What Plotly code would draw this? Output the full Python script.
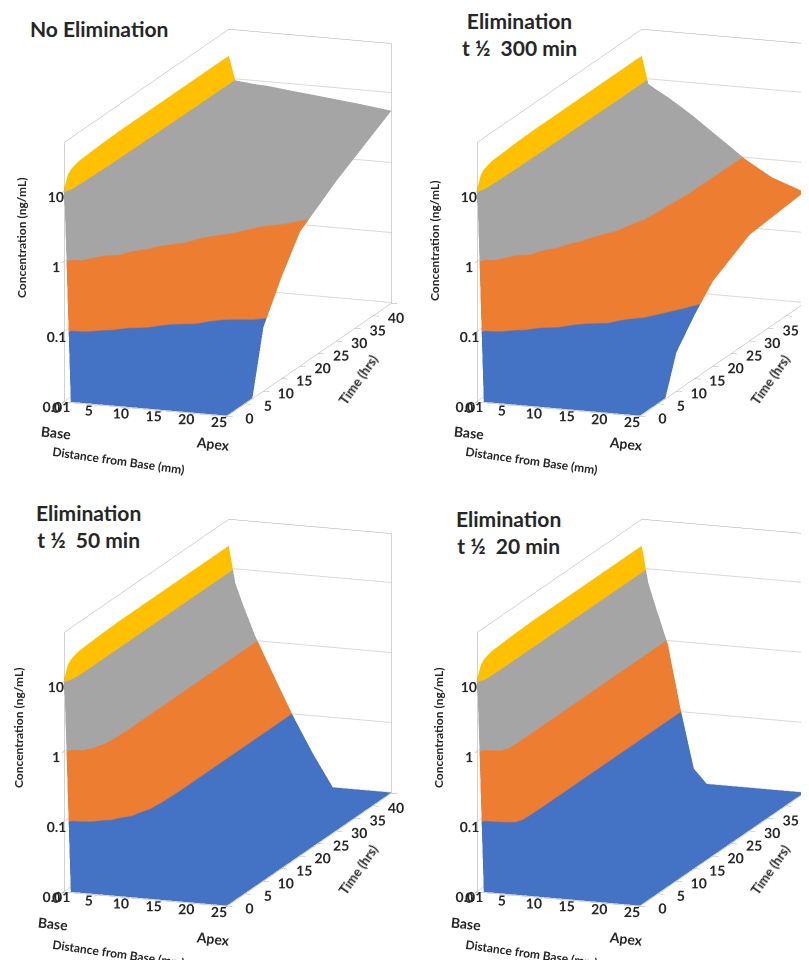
import numpy as np
import plotly.graph_objects as go

# grid
DIST_MM = [0, 1, 2, 4, 6, 8, 10, 13, 16, 20, 25]
TIME_HRS = [0, 1, 2, 4, 7, 10, 15, 20, 30, 45]

# concentration (ng/mL), one row per time point, one column per distance
CONC_NO_ELIM = [
    [11, 0.01, 0.01, 0.01, 0.01, 0.01, 0.01, 0.01, 0.01, 0.01, 0.01],
    [16, 2.8, 1.6, 0.1, 0.011, 0.01, 0.01, 0.01, 0.01, 0.01, 0.01],
    [18, 4.0, 2.8, 0.56, 0.14, 0.025, 0.01, 0.01, 0.01, 0.01, 0.01],
    [19.5, 5.2, 4.2, 2.0, 1.26, 0.32, 0.14, 0.032, 0.01, 0.01, 0.01],
    [20, 6.3, 5.4, 3.3, 2.4, 1.5, 0.7, 0.25, 0.14, 0.025, 0.01],
    [20.5, 7.1, 6.2, 4.3, 3.3, 2.4, 1.6, 0.9, 0.35, 0.16, 0.08],
    [21, 7.8, 7.1, 5.5, 4.5, 3.6, 2.8, 1.9, 1.26, 0.63, 0.28],
    [21, 8.3, 7.8, 6.3, 5.4, 4.6, 3.8, 2.8, 2.1, 1.26, 0.81],
    [21, 8.9, 8.5, 7.6, 6.9, 6.2, 5.5, 4.5, 3.6, 2.8, 1.9],
    [21, 9.5, 9.3, 8.9, 8.7, 8.3, 7.9, 7.4, 6.9, 6.3, 5.5],
]
CONC_300 = [
    [11, 0.01, 0.01, 0.01, 0.01, 0.01, 0.01, 0.01, 0.01, 0.01, 0.01],
    [16, 2.6, 1.5, 0.09, 0.011, 0.01, 0.01, 0.01, 0.01, 0.01, 0.01],
    [18, 3.7, 2.5, 0.5, 0.126, 0.022, 0.01, 0.01, 0.01, 0.01, 0.01],
    [19.5, 4.8, 3.6, 1.66, 1.0, 0.26, 0.12, 0.028, 0.01, 0.01, 0.01],
    [20, 5.6, 4.6, 2.6, 1.8, 1.05, 0.5, 0.2, 0.11, 0.022, 0.01],
    [20.5, 6.3, 5.2, 3.3, 2.3, 1.6, 1.0, 0.56, 0.25, 0.1, 0.035],
    [21, 6.9, 6.0, 4.2, 3.0, 2.1, 1.5, 1.0, 0.56, 0.24, 0.08],
    [21, 7.4, 6.5, 4.7, 3.5, 2.6, 1.9, 1.26, 0.8, 0.38, 0.16],
    [21, 7.9, 7.1, 5.2, 4.0, 3.0, 2.2, 1.45, 0.91, 0.5, 0.32],
    [21, 8.5, 7.4, 5.8, 4.4, 3.3, 2.4, 1.5, 0.93, 0.56, 0.38],
]
CONC_50 = [
    [11, 0.01, 0.01, 0.01, 0.01, 0.01, 0.01, 0.01, 0.01, 0.01, 0.01],
    [16, 4.2, 1.8, 0.126, 0.011, 0.01, 0.01, 0.01, 0.01, 0.01, 0.01],
    [18, 5.6, 2.8, 0.56, 0.126, 0.02, 0.01, 0.01, 0.01, 0.01, 0.01],
    [19.5, 6.3, 3.4, 1.07, 0.35, 0.11, 0.032, 0.01, 0.01, 0.01, 0.01],
    [20, 6.3, 3.5, 1.17, 0.47, 0.18, 0.071, 0.02, 0.01, 0.01, 0.01],
    [20.5, 6.3, 3.5, 1.2, 0.5, 0.2, 0.083, 0.025, 0.01, 0.01, 0.01],
    [21, 6.3, 3.5, 1.2, 0.5, 0.21, 0.089, 0.028, 0.01, 0.01, 0.01],
    [21, 6.3, 3.5, 1.2, 0.5, 0.21, 0.089, 0.028, 0.01, 0.01, 0.01],
    [21, 6.3, 3.5, 1.2, 0.5, 0.21, 0.089, 0.028, 0.01, 0.01, 0.01],
    [21, 6.3, 3.5, 1.2, 0.5, 0.21, 0.089, 0.028, 0.01, 0.01, 0.01],
]
CONC_20 = [
    [11, 0.01, 0.01, 0.01, 0.01, 0.01, 0.01, 0.01, 0.01, 0.01, 0.01],
    [16, 5.2, 2.5, 0.5, 0.05, 0.01, 0.01, 0.01, 0.01, 0.01, 0.01],
    [18, 6.0, 3.0, 0.8, 0.089, 0.0126, 0.01, 0.01, 0.01, 0.01, 0.01],
    [19.5, 6.3, 3.2, 0.89, 0.1, 0.016, 0.01, 0.01, 0.01, 0.01, 0.01],
    [20, 6.3, 3.2, 0.89, 0.105, 0.016, 0.01, 0.01, 0.01, 0.01, 0.01],
    [20.5, 6.3, 3.2, 0.89, 0.105, 0.016, 0.01, 0.01, 0.01, 0.01, 0.01],
    [21, 6.3, 3.2, 0.89, 0.105, 0.016, 0.01, 0.01, 0.01, 0.01, 0.01],
    [21, 6.3, 3.2, 0.89, 0.105, 0.016, 0.01, 0.01, 0.01, 0.01, 0.01],
    [21, 6.3, 3.2, 0.89, 0.105, 0.016, 0.01, 0.01, 0.01, 0.01, 0.01],
    [21, 6.3, 3.2, 0.89, 0.105, 0.016, 0.01, 0.01, 0.01, 0.01, 0.01],
]

PANEL_TITLES = [
    "No Elimination",
    "Elimination<br>t ½  300 min",
    "Elimination<br>t ½  50 min",
    "Elimination<br>t ½  20 min",
]
X_TICKS = [0, 5, 10, 15, 20, 25]
T_TICKS = [0, 5, 10, 15, 20, 25, 30, 35, 40, 45]
Z_TICKS = [0.01, 0.1, 1, 10]
Z_LABELS = ["0.01", "0.1", "1", "10"]

# Excel band colours: 0.01-0.1, 0.1-1, 1-10, 10-100
BAND_COLORS = ["#4472C4", "#ED7D31", "#A5A5A5", "#FFC000"]
FONT = "Lato"
TXT = "#262626"
W, H = 809, 960

colorscale = []
for i, c in enumerate(BAND_COLORS):
    colorscale.append([i / 4, c])
    colorscale.append([(i + 1) / 4, c])


def axis_style(tickvals, ticktext, rng, grid=False, **kw):
    return dict(
        title=dict(text=""),
        tickvals=tickvals,
        ticktext=[f"<b>{t}</b>" for t in ticktext],
        tickfont=dict(size=13, family=FONT, color=TXT),
        tickangle=0,
        range=rng,
        showgrid=grid,
        gridcolor="#D9D9D9",
        showline=True,
        mirror=True,
        linecolor="#A6A6A6",
        zeroline=False,
        showbackground=False,
        ticks="outside",
        tickcolor="#7F7F7F",
        ticklen=6,
        showspikes=False,
        **kw,
    )


domains = [
    dict(x=[0.0, 0.49], y=[0.51, 1.0]),
    dict(x=[0.51, 1.0], y=[0.51, 1.0]),
    dict(x=[0.0, 0.49], y=[0.0, 0.49]),
    dict(x=[0.51, 1.0], y=[0.0, 0.49]),
]

fig = go.Figure()
layout_scenes = {}
for k, conc in enumerate([CONC_NO_ELIM, CONC_300, CONC_50, CONC_20]):
    name = "scene" if k == 0 else f"scene{k + 1}"
    fig.add_trace(go.Surface(
        x=DIST_MM,
        y=TIME_HRS,
        z=conc,
        surfacecolor=np.log10(np.array(conc)),
        colorscale=colorscale,
        cmin=-2, cmax=2,
        showscale=False,
        hoverinfo="skip",
        lighting=dict(ambient=1.0, diffuse=0.15, specular=0.0, roughness=1, fresnel=0),
        lightposition=dict(x=1000, y=-3000, z=3000),
        scene=name,
    ))
    layout_scenes[name] = dict(
        domain=domains[k],
        xaxis=axis_style(X_TICKS, [str(v) for v in X_TICKS], [0, 25]),
        yaxis=axis_style(T_TICKS, [str(v) for v in T_TICKS], [0, 45]),
        zaxis=axis_style(Z_TICKS, Z_LABELS, [-2.01, 1.7], grid=True, type="log"),
        aspectmode="manual",
        aspectratio=dict(x=0.735, y=2.08, z=1.14),
        camera=dict(
            eye=dict(x=1.65, y=-4.89, z=1.22),
            center=dict(x=-0.088, y=-0.03, z=-0.089),
            projection=dict(type="orthographic"),
        ),
        bgcolor="white",
    )

# label positions in pixels
title_pos = [(91, 21), (511, 26), (80, 518), (500, 524)]
conc_pos = [(13, 230), (427, 233), (10, 720), (430, 720)]
time_pos = [(350, 372), (762, 372), (350, 862), (762, 862)]
base_pos = [(48, 425), (461, 425), (45, 915), (458, 915)]
apex_pos = [(205, 435), (618, 435), (205, 930), (618, 930)]
dist_pos = [(110, 452), (523, 452), (110, 945), (523, 945)]


def px_note(text, pos, size=13, angle=0, **kw):
    return dict(
        text=f"<b>{text}</b>", x=pos[0] / W, y=1 - pos[1] / H,
        xref="paper", yref="paper", xanchor="center", yanchor="middle",
        showarrow=False, textangle=angle,
        font=dict(size=size, family=FONT, color=TXT), **kw,
    )


annotations = []
for k in range(4):
    annotations.append(px_note(PANEL_TITLES[k], title_pos[k], size=21, bgcolor="white", align="center"))
    annotations.append(px_note("Concentration (ng/mL)", conc_pos[k], size=12, angle=-90))
    annotations.append(px_note("Time (hrs)", time_pos[k], size=13, angle=-55))
    annotations.append(px_note("Base", base_pos[k], size=14, angle=6))
    annotations.append(px_note("Apex", apex_pos[k], size=14, angle=6))
    annotations.append(px_note("Distance from Base (mm)", dist_pos[k], size=12, angle=8))

fig.update_layout(
    width=W, height=H,
    paper_bgcolor="white",
    margin=dict(l=0, r=0, t=0, b=0),
    showlegend=False,
    annotations=annotations,
    **layout_scenes,
)
fig.write_html("out.html")
